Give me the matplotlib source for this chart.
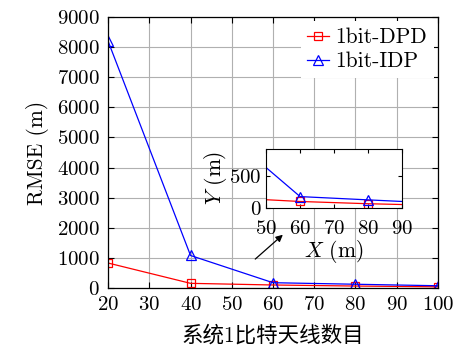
import matplotlib
matplotlib.use("Agg")
import matplotlib.pyplot as plt

plt.rcParams["font.family"] = ["cmr10", "Noto Sans CJK SC"]
plt.rcParams["mathtext.fontset"] = "cm"
plt.rcParams["axes.unicode_minus"] = False
plt.rcParams["axes.formatter.use_mathtext"] = True

# antenas y RMSE
n_ant = [20, 40, 60, 80, 100]
rmse_dpd = [830, 155, 100, 65, 40]
rmse_idp = [8200, 1080, 176, 125, 75]

x_ticks = [20, 30, 40, 50, 60, 70, 80, 90, 100]
y_ticks = [0, 1000, 2000, 3000, 4000, 5000, 6000, 7000, 8000, 9000]
ins_xticks = [50, 60, 70, 80, 90]
ins_yticks = [0, 500]

fig = plt.figure(figsize=(4.58, 3.56), dpi=100)
ax = fig.add_axes([0.236, 0.191, 0.720, 0.761])

ax.plot(n_ant, rmse_dpd, color="red", lw=0.9, marker="s", ms=6, mfc="none",
        mec="red", mew=0.9, label="1bit-DPD")
ax.plot(n_ant, rmse_idp, color="blue", lw=0.9, marker="^", ms=7, mfc="none",
        mec="blue", mew=0.9, label="1bit-IDP")

ax.set_xlim(20, 100)
ax.set_ylim(0, 9000)
ax.set_xticks(x_ticks)
ax.set_yticks(y_ticks)
ax.grid(True, color="#b0b0b0", lw=0.8)
ax.tick_params(direction="in", top=True, right=True, labelsize=15, length=4, pad=6)
for s in ax.spines.values():
    s.set_linewidth(0.9)
ax.set_ylabel("RMSE (m)", fontsize=15.5, labelpad=6)
ax.set_xlabel("系统1比特天线数目", fontsize=15.5, labelpad=8)

leg = ax.legend(loc="upper right", fontsize=15.5, handlelength=1.0, handletextpad=0.3,
                borderaxespad=0.2, borderpad=0.3, labelspacing=0.2, fancybox=False,
                framealpha=1)
leg.get_frame().set_edgecolor("white")
leg.get_frame().set_linewidth(0)

# zoom de la zona 50-90
axin = fig.add_axes([0.581, 0.416, 0.297, 0.166])
axin.plot(n_ant, rmse_dpd, color="red", lw=0.9, marker="s", ms=6, mfc="none",
          mec="red", mew=0.9)
axin.plot(n_ant, rmse_idp, color="blue", lw=0.9, marker="^", ms=7, mfc="none",
          mec="blue", mew=0.9)
axin.set_xlim(50, 90)
axin.set_ylim(0, 920)
axin.set_xticks(ins_xticks)
axin.set_yticks(ins_yticks)
axin.tick_params(direction="in", top=True, right=True, labelsize=15, length=3)
axin.tick_params(axis="x", pad=9)
axin.tick_params(axis="y", pad=3)
axin.set_xlabel("$X$ (m)", fontsize=15.5, labelpad=0)
axin.set_ylabel("$Y$ (m)", fontsize=15.5, labelpad=0)

ax.annotate("", xy=(62.9, 1830), xytext=(55.2, 900),
            arrowprops=dict(arrowstyle="-|>", color="black", lw=0.9,
                            mutation_scale=10))

fig.savefig("out.png", dpi=100)
